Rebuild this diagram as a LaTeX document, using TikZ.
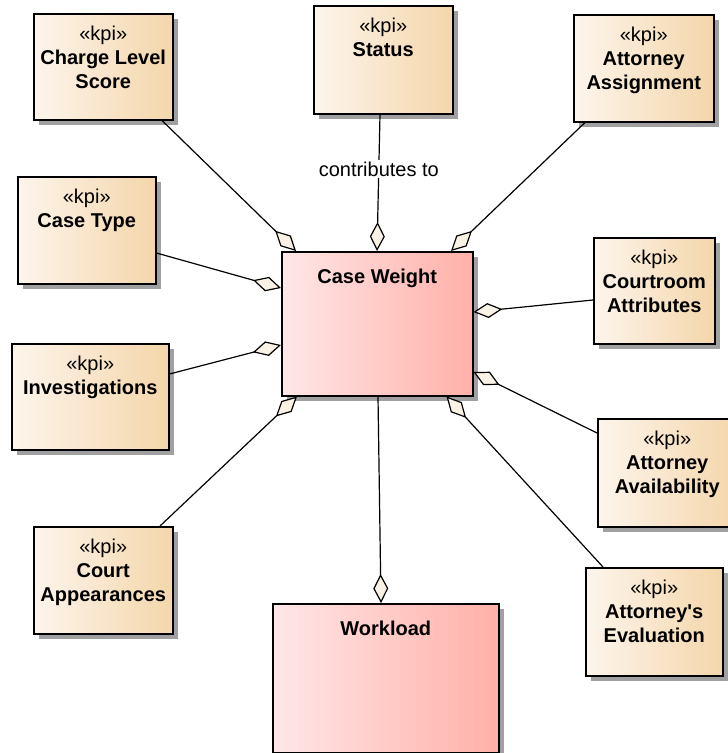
\documentclass[tikz,border=0pt]{standalone}
\usepackage{fontspec}
\setmainfont{Liberation Sans}[Ligatures=TeXOff]
\usetikzlibrary{arrows.meta,shadows,calc}

\definecolor{kpiL}{RGB}{253,245,236}
\definecolor{kpiR}{RGB}{244,214,170}
\definecolor{clsL}{RGB}{255,231,231}
\definecolor{clsR}{RGB}{255,176,168}
\definecolor{diafill}{RGB}{251,242,230}
\definecolor{shadowgray}{RGB}{160,160,160}

\tikzset{
  box/.style={draw=black, line width=1.5pt, rectangle, anchor=north west, inner sep=0pt,
    drop shadow={shadow xshift=5pt, shadow yshift=-5pt, fill=shadowgray, opacity=1}},
  kpibox/.style={box, left color=kpiL, right color=kpiR},
  classbox/.style={box, left color=clsL, right color=clsR},
  kpitext/.style={anchor=north, inner sep=0pt, yshift=-13pt, align=center,
    font=\fontsize{20}{24}\selectfont},
  classtext/.style={anchor=north, inner sep=0pt, yshift=-18pt, align=center,
    font=\fontsize{20}{24}\selectfont\bfseries},
  agg/.style={line width=1.2pt,
    -{Diamond[length=29pt, width=15pt, fill=diafill, line width=1.2pt]}},
  rolelabel/.style={fill=white, inner sep=2pt, font=\fontsize{20}{24}\selectfont}
}

\begin{document}
\begin{tikzpicture}[x=1pt, y=-1pt]
\useasboundingbox (0,0) rectangle (728,753);

% central classes
\node[classbox, minimum width=191pt, minimum height=144pt,
  label={[classtext, name=cwt]north:Case Weight}] (cw) at (281,251) {};
\node[classbox, minimum width=226pt, minimum height=149pt,
  label={[classtext, name=wlt]north:Workload}] (wl) at (272,603) {};

% contributing KPIs
\node[kpibox, minimum width=139pt, minimum height=106pt,
  label={[kpitext, name=clst]north:{«kpi»\\\textbf{Charge Level}\\\textbf{Score}}}] (cls) at (33,13) {};
\node[kpibox, minimum width=139pt, minimum height=108pt,
  label={[kpitext, name=stt]north:{«kpi»\\\textbf{Status}}}] (st) at (313,5) {};
\node[kpibox, minimum width=140pt, minimum height=107pt,
  label={[kpitext, name=aat]north:{«kpi»\\\textbf{Attorney}\\\textbf{Assignment}}}] (aa) at (573,14) {};
\node[kpibox, minimum width=138pt, minimum height=107pt,
  label={[kpitext, name=ctt]north:{«kpi»\\\textbf{Case Type}}}] (ct) at (17,176) {};
\node[kpibox, minimum width=157pt, minimum height=106pt,
  label={[kpitext, name=invt]north:{«kpi»\\\textbf{Investigations}}}] (inv) at (11,343) {};
\node[kpibox, minimum width=139pt, minimum height=107pt,
  label={[kpitext, name=capt]north:{«kpi»\\\textbf{Court}\\\textbf{Appearances}}}] (cap) at (33,526) {};
\node[kpibox, minimum width=121pt, minimum height=106pt,
  label={[kpitext, name=crat]north:{«kpi»\\\textbf{Courtroom}\\\textbf{Attributes}}}] (cra) at (593,237) {};
\node[kpibox, minimum width=139pt, minimum height=108pt,
  label={[kpitext, name=avt]north:{«kpi»\\\textbf{Attorney}\\\textbf{Availability}}}] (av) at (597,418) {};
\node[kpibox, minimum width=137pt, minimum height=108pt,
  label={[kpitext, name=evt]north:{«kpi»\\\textbf{Attorney's}\\\textbf{Evaluation}}}] (ev) at (585,567) {};

% aggregations into Case Weight
\draw[agg] ($(cls.south west)+(129,0)$) -- ($(cw.north west)+(15,0)$);
\draw[agg] ($(st.south west)+(67,0)$) -- node[rolelabel, pos=0.4] (ctb) {contributes to} ($(cw.north west)+(96,0)$);
\draw[agg] ($(aa.south west)+(12,0)$) -- ($(cw.north west)+(170,0)$);
\draw[agg] ($(ct.north east)+(0,77)$) -- ($(cw.north west)+(0,37)$);
\draw[agg] ($(inv.north east)+(0,31)$) -- ($(cw.north west)+(0,94)$);
\draw[agg] ($(cap.north west)+(127,0)$) -- ($(cw.south west)+(16,0)$);
\draw[agg] ($(cra.north west)+(0,63)$) -- ($(cw.north east)+(0,61)$);
\draw[agg] ($(av.north west)+(0,15)$) -- ($(cw.north east)+(0,121)$);
\draw[agg] ($(ev.north west)+(18,0)$) -- ($(cw.south east)+(-27,0)$);

% Case Weight into Workload
\draw[agg] ($(cw.south west)+(97,0)$) -- ($(wl.north west)+(109,0)$);
\end{tikzpicture}
\end{document}
